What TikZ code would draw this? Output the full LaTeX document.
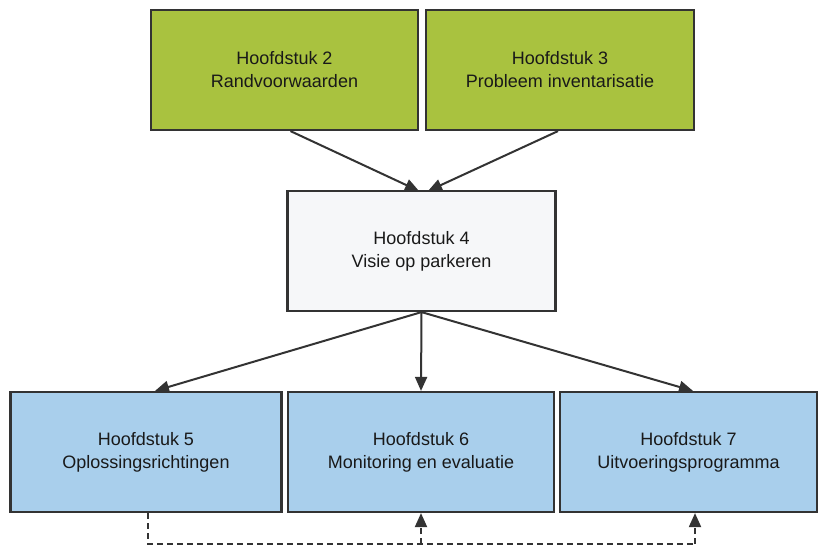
\documentclass[tikz,border=0pt]{standalone}
\usepackage{fontspec}
\setmainfont{Liberation Sans}
\usetikzlibrary{arrows.meta}
\definecolor{boxgreen}{HTML}{A9C23F}
\definecolor{boxblue}{HTML}{A9CFEC}
\definecolor{boxwhite}{HTML}{F6F7F9}
\definecolor{edge}{HTML}{333333}
\begin{document}
\begin{tikzpicture}[x=1pt,y=-1pt,
  chap/.style={draw=edge,line width=2.2pt,minimum width=#1,minimum height=120pt,inner sep=0pt,
    font=\fontsize{18}{23}\selectfont,align=center,text=black!90},
  conn/.style={draw=edge,line width=2pt,-{Triangle[length=14pt,width=12pt]}},
  dconn/.style={conn,dash pattern=on 6pt off 4pt}]
\useasboundingbox (0,0) rectangle (818,551);
\node[chap=267pt,fill=boxgreen] (h2) at (284.5,70) {Hoofdstuk 2\\Randvoorwaarden};
\node[chap=268pt,fill=boxgreen] (h3) at (560,70) {Hoofdstuk 3\\Probleem inventarisatie};
\node[chap=268pt,fill=boxwhite] (h4) at (421.5,251) {Hoofdstuk 4\\Visie op parkeren};
\node[chap=271pt,fill=boxblue] (h5) at (146,452) {Hoofdstuk 5\\Oplossingsrichtingen};
\node[chap=266pt,fill=boxblue] (h6) at (421,452) {Hoofdstuk 6\\Monitoring en evaluatie};
\node[chap=257pt,fill=boxblue] (h7) at (688.5,452) {Hoofdstuk 7\\Uitvoeringsprogramma};
\coordinate (a1) at (419,191);
\coordinate (a2) at (428,191);
\draw[conn] (h2.south) ++(6,0) -- (a1);
\draw[conn] (h3.south) ++(-2,0) -- (a2);
\draw[conn] (h4.south) -- (h5.north -| 155,0);
\draw[conn] (h4.south) -- (h6.north);
\draw[conn] (h4.south) -- (h7.north -| 693,0);
\coordinate (d0) at (148,544);
\coordinate (d1) at (421,544);
\coordinate (d2) at (695,544);
\draw[dconn,-] (h5.south -| d0) -- (d0) -- (d2);
\draw[dconn] (d1) -- (h6.south);
\draw[dconn] (d2) -- (h7.south -| d2);
\end{tikzpicture}
\end{document}
